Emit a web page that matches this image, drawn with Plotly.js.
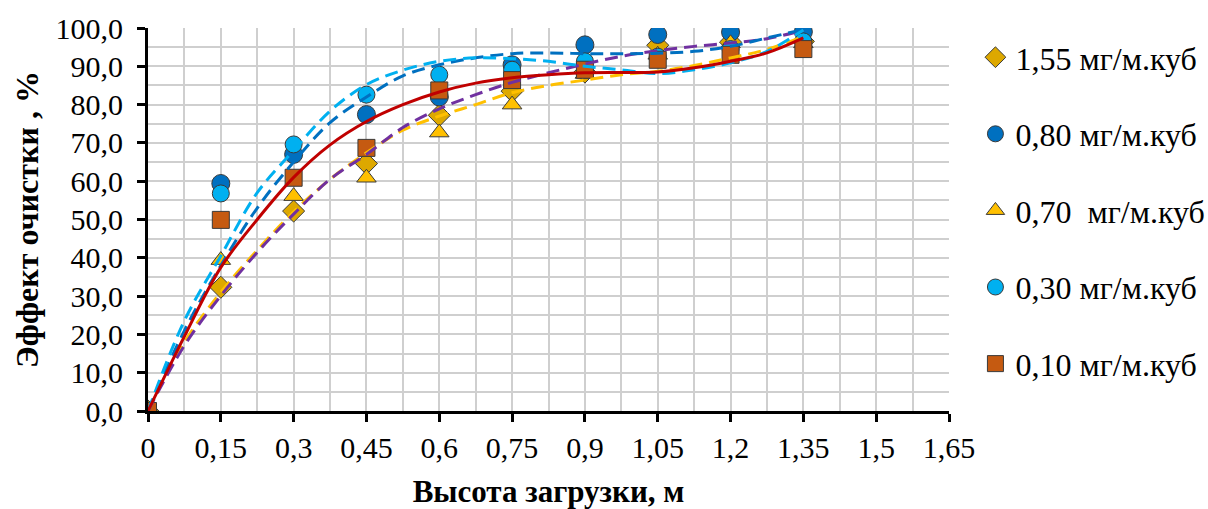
<!DOCTYPE html>
<html>
<head>
<meta charset="utf-8">
<script src="https://cdn.plot.ly/plotly-3.0.1.min.js"></script>
<style>html,body{margin:0;padding:0;background:#fff;}#chart{width:1208px;height:509px;}</style>
</head>
<body>
<div id="chart"></div>
<script>
// Measured points
const heights = [0, 0.15, 0.3, 0.45, 0.6, 0.75, 0.9, 1.05, 1.2, 1.35];
const eff155 = [0, 32.3, 52.2, 64.6, 77.2, 83.5, 88.5, 95.5, 96.3, 96.5];
const eff080 = [0, 59.4, 67.0, 77.4, 82.0, 90.4, 95.6, 98.3, 98.9, 99.0];
const eff070 = [0, 39.4, 56.1, 60.9, 72.7, 80.0, 88.0, 93.0, 96.0, 96.0];
const eff030 = [0, 56.8, 69.6, 82.6, 87.8, 89.1, 91.3, 92.5, 94.5, 96.5];
const eff010 = [0, 49.9, 60.9, 68.7, 83.7, 86.4, 89.1, 91.7, 93.0, 94.5];

// Trend curves
const trendX = [0, 0.075, 0.15, 0.225, 0.3, 0.375, 0.45, 0.525, 0.6, 0.675, 0.75, 0.825, 0.9, 0.975, 1.05, 1.125, 1.2, 1.275, 1.35];
const trendYellow = [0, 18, 31, 42, 52, 60.5, 67.4, 73.3, 77, 80, 83.1, 85, 86.4, 87.8, 88.7, 90.2, 92.2, 94.4, 97.8];
const trendDarkBlue = [0, 21, 38, 53, 65, 75.3, 82, 87.5, 90.4, 92.2, 93.3, 93.5, 93.3, 93.3, 93.4, 93.9, 95.2, 97.4, 99.6];
const trendPurple = [0, 17.1, 30.1, 41.4, 51.4, 60.5, 67, 74, 78.9, 82.6, 85.8, 88.3, 90.6, 92.6, 94.1, 95.2, 96.1, 97.2, 99.4];
const trendLightBlue = [0, 23.6, 40.5, 57, 68, 78.3, 85.2, 89, 91.3, 92.2, 92, 91.3, 90, 89.1, 88.1, 89.1, 90.9, 93.9, 99.5];
const trendRed = [0, 19.5, 37.5, 50, 61, 69.5, 75.6, 80, 83.3, 85.6, 87.0, 87.8, 88.3, 88.4, 88.5, 89.6, 91.3, 93.5, 97.4];

const seriesNames = ["1,55 мг/м.куб", "0,80 мг/м.куб", "0,70\u00a0 мг/м.куб", "0,30 мг/м.куб", "0,10 мг/м.куб"];
const xTickVals = [0, 0.15, 0.3, 0.45, 0.6, 0.75, 0.9, 1.05, 1.2, 1.35, 1.5, 1.65];
const xTickText = ["0", "0,15", "0,3", "0,45", "0,6", "0,75", "0,9", "1,05", "1,2", "1,35", "1,5", "1,65"];
const yTickVals = [0, 10, 20, 30, 40, 50, 60, 70, 80, 90, 100];
const yTickText = ["0,0", "10,0", "20,0", "30,0", "40,0", "50,0", "60,0", "70,0", "80,0", "90,0", "100,0"];

const outline = {color: "#3a3a3a", width: 1};
function markerTrace(y, name, symbol, color, size, group) {
  return {x: heights, y: y, name: name, mode: "markers", type: "scatter", legendgroup: group,
    marker: {symbol: symbol, color: color, size: size, line: outline}};
}
function trendTrace(y, color, dash) {
  return {x: trendX, y: y, mode: "lines", type: "scatter", showlegend: false, hoverinfo: "skip",
    line: {color: color, width: 3, dash: dash, shape: "spline", smoothing: 1}};
}
const dashed = "13px,7px";
const data = [
  markerTrace(eff155, seriesNames[0], "diamond", "#DDA800", 17, "g1"),
  markerTrace(eff080, seriesNames[1], "circle", "#0070C0", 18, "g2"),
  markerTrace(eff070, seriesNames[2], "triangle-up", "#FFC000", 17, "g3"),
  markerTrace(eff030, seriesNames[3], "circle", "#00B0F0", 17, "g4"),
  markerTrace(eff010, seriesNames[4], "square", "#C55A11", 17, "g5"),
  trendTrace(trendYellow, "#FFC000", dashed),
  trendTrace(trendPurple, "#7030A0", dashed),
  trendTrace(trendDarkBlue, "#0070C0", dashed),
  trendTrace(trendLightBlue, "#00B0F0", dashed),
  trendTrace(trendRed, "#C00000", "solid")
];

const font = "Liberation Serif, Times New Roman, serif";
const layout = {
  width: 1208, height: 509,
  margin: {l: 148, r: 259, t: 28, b: 98, autoexpand: false},
  paper_bgcolor: "#ffffff", plot_bgcolor: "#ffffff",
  font: {family: font, size: 30, color: "#000"},
  showlegend: true,
  legend: {x: 1.033, xanchor: "left", y: 0.995, yanchor: "top", tracegroupgap: 32,
    font: {family: font, size: 32, color: "#000"}, bgcolor: "rgba(0,0,0,0)"},
  xaxis: {range: [0, 1.65], tickvals: xTickVals, ticktext: xTickText,
    showline: true, linecolor: "#000", linewidth: 3, mirror: false,
    ticks: "outside", ticklen: 8, tickwidth: 3, tickcolor: "#000",
    showgrid: true, gridcolor: "#CFCFCF", gridwidth: 2, zeroline: false,
    minor: {dtick: 0.075, tick0: 0, showgrid: true, gridcolor: "#CFCFCF", gridwidth: 2, ticks: ""},
    tickfont: {family: font, size: 30, color: "#000"}, ticklabelstandoff: 0,
    title: {text: "Высота загрузки, м", font: {family: font, size: 31, weight: "bold", color: "#000"}, standoff: 22}},
  yaxis: {range: [0, 100], tickvals: yTickVals, ticktext: yTickText,
    showline: true, linecolor: "#000", linewidth: 3,
    ticks: "outside", ticklen: 8, tickwidth: 3, tickcolor: "#000",
    showgrid: true, gridcolor: "#CFCFCF", gridwidth: 2, zeroline: false,
    minor: {dtick: 5, tick0: 0, showgrid: true, gridcolor: "#CFCFCF", gridwidth: 2, ticks: ""},
    tickfont: {family: font, size: 30, color: "#000"}, ticklabelstandoff: 8,
    title: {text: "Эффект очистки , %", font: {family: font, size: 32, weight: "bold", color: "#000"}, standoff: 8}}
};
Plotly.newPlot("chart", data, layout, {displayModeBar: false, staticPlot: true});
</script>
</body>
</html>
